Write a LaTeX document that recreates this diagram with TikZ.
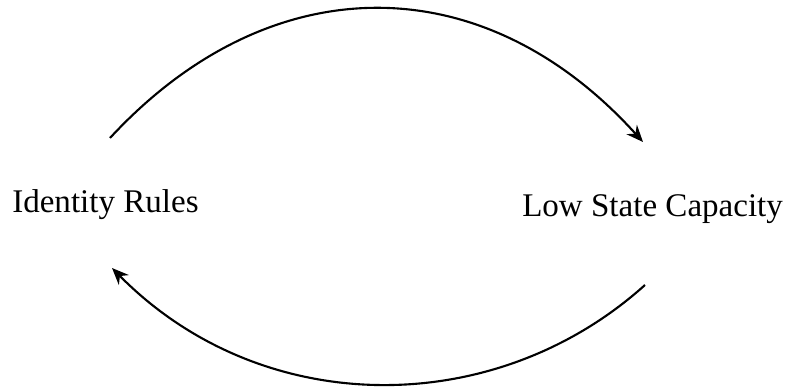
\documentclass[tikz,border=0pt]{standalone}
\usepackage{fontspec}
\setmainfont{Liberation Serif}
\usetikzlibrary{arrows.meta}
\usetikzlibrary{calc}

\begin{document}
\begin{tikzpicture}[x=0.025cm,y=-0.025cm]
\tikzstyle{label}=[inner sep=0pt,anchor=base west,font=\fontsize{23.5}{28}\selectfont]
\tikzstyle{loop}=[line width=1.5pt,-{Stealth[length=12pt,width=10pt,inset=4pt]}]
\useasboundingbox (0,0) rectangle (785,387);
\node[label] (IR) at (12,213) {Identity Rules};
\node[label] (LSC) at (522,217) {Low State Capacity};
\coordinate (TL) at (110,138);
\coordinate (TR) at (643,142);
\coordinate (BR) at (645,285);
\coordinate (BL) at (112,268);
\draw[loop] (TL) .. controls ($(TL)+(160,-173)$) and ($(TR)+(-160,-177)$) .. (TR);
\draw[loop] (BR) .. controls ($(BR)+(-150,135)$) and ($(BL)+(150,152)$) .. (BL);
\end{tikzpicture}
\end{document}
